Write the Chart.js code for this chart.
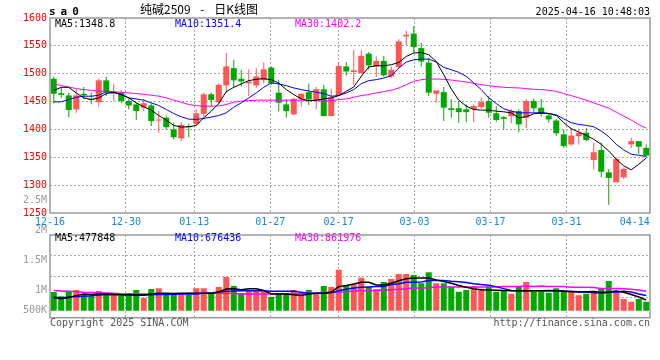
<!DOCTYPE html>
<html>
<head>
<meta charset="utf-8">
<script src="https://cdn.jsdelivr.net/npm/chart.js@4.4.1/dist/chart.umd.min.js"></script>
<style>
  body { margin: 0; background: #fff; }
  #box { position: relative; width: 660px; height: 360px; overflow: hidden; font-family: "DejaVu Sans Mono", monospace; }
  canvas { position: absolute; left: 0; }
  #cPrice { top: 0; }
  #cVol { top: 190px; }
  .t { position: absolute; white-space: nowrap; font-size: 10px; line-height: 10px; }
</style>
</head>
<body>
<div id="box">
  <canvas id="cPrice" width="660" height="232"></canvas>
  <canvas id="cVol" width="660" height="170"></canvas>

  <div class="t" style="left:49px;top:6px;font-weight:bold;font-size:11px;line-height:11px;letter-spacing:5px">sa0</div>
  <div class="t" style="left:140px;top:3px;font-family:'Noto Sans CJK SC',sans-serif;font-size:12px;line-height:12px;word-spacing:7px">纯碱2509 - 日K线图</div>
  <div class="t" style="right:10px;top:7px">2025-04-16 10:48:03</div>

  <div class="t" id="pMa5" style="left:55px;top:19px;color:#000"></div>
  <div class="t" id="pMa10" style="left:175px;top:19px;color:#00f"></div>
  <div class="t" id="pMa30" style="left:295px;top:19px;color:#f0f"></div>

  <div class="t" id="vMa5" style="left:55px;top:233px;color:#000"></div>
  <div class="t" id="vMa10" style="left:175px;top:233px;color:#00f"></div>
  <div class="t" id="vMa30" style="left:295px;top:233px;color:#f0f"></div>

  <div class="t" style="left:50px;top:318px;color:#555">Copyright 2025 SINA.COM</div>
  <div class="t" style="right:10px;top:318px;color:#555">http://finance.sina.com.cn</div>
</div>

<script>
// 纯碱2509 日K线，数据从图上读出来的（估计值）

// 交易日
const dates = ["12-16","12-17","12-18","12-19","12-20","12-23","12-24","12-25","12-26","12-27",
  "12-30","12-31","01-02","01-03","01-06","01-07","01-08","01-09","01-10",
  "01-13","01-14","01-15","01-16","01-17","01-20","01-21","01-22","01-23","01-24",
  "01-27","02-05","02-06","02-07","02-10","02-11","02-12","02-13","02-14",
  "02-17","02-18","02-19","02-20","02-21","02-24","02-25","02-26","02-27","02-28",
  "03-03","03-04","03-05","03-06","03-07","03-10","03-11","03-12","03-13","03-14",
  "03-17","03-18","03-19","03-20","03-21","03-24","03-25","03-26","03-27","03-28",
  "03-31","04-01","04-02","04-03","04-07","04-08","04-09","04-10","04-11",
  "04-14","04-15","04-16"];

// x 轴上显示的日期
const tickDates = ["12-16","12-30","01-13","01-27","02-17","03-03","03-17","03-31","04-14"];

// 价格 y 轴刻度
const priceTicks = [1250, 1300, 1350, 1400, 1450, 1500, 1550, 1600];

// 成交量 y 轴标签（新浪的标签位置跟柱子不是一个比例）
const volTickLabels = ["2.5M", "2M", "1.5M", "1M", "500K"];
const volTickValues = [2500000, 2000000, 1500000, 1000000, 500000];

const opens = [1491,1465,1461,1436,1464,1455,1449,1488,1464,1466,
  1451,1445,1439,1443,1416,1421,1400,1384,1406,1410,
  1428,1463,1449,1479,1510,1491,1483,1479,1489,1511,
  1466,1445,1427,1455,1467,1453,1472,1424,1461,1513,
  1503,1501,1536,1513,1523,1495,1512,1567,1572,1546,
  1520,1464,1467,1438,1438,1436,1436,1440,1451,1429,
  1422,1424,1433,1421,1451,1439,1425,1416,1391,1373,
  1388,1394,1345,1363,1323,1305,1314,1373,1379,1367];
const closes = [1464,1462,1435,1461,1461,1453,1488,1469,1468,1451,
  1443,1433,1447,1415,1417,1404,1386,1408,1404,1429,
  1463,1453,1480,1513,1488,1486,1486,1495,1508,1483,
  1448,1433,1455,1464,1454,1472,1424,1457,1514,1504,
  1506,1532,1515,1523,1497,1507,1558,1570,1548,1522,
  1466,1470,1439,1435,1431,1431,1442,1449,1430,1417,
  1419,1433,1409,1451,1438,1428,1418,1393,1370,1389,
  1394,1381,1359,1324,1313,1347,1329,1379,1369,1353];
const highs = [1495,1476,1466,1472,1476,1466,1491,1494,1482,1470,
  1455,1448,1455,1447,1433,1425,1412,1413,1410,1436,
  1466,1466,1483,1537,1525,1507,1508,1510,1520,1513,
  1489,1454,1457,1465,1482,1476,1480,1472,1521,1521,
  1543,1543,1539,1531,1532,1513,1562,1577,1585,1555,
  1528,1470,1476,1454,1451,1445,1445,1457,1460,1442,
  1424,1437,1436,1454,1455,1455,1430,1419,1400,1402,
  1400,1403,1376,1376,1329,1350,1332,1385,1379,1373];
const lows = [1447,1457,1422,1430,1454,1445,1441,1460,1451,1447,
  1436,1417,1433,1406,1394,1399,1382,1379,1386,1406,
  1418,1441,1445,1466,1475,1477,1460,1475,1483,1480,
  1432,1421,1426,1441,1444,1436,1423,1424,1460,1497,
  1480,1500,1507,1494,1495,1492,1510,1551,1537,1513,
  1460,1448,1415,1421,1412,1413,1413,1437,1421,1414,
  1400,1411,1395,1402,1430,1423,1412,1388,1367,1371,
  1373,1379,1328,1314,1265,1305,1311,1366,1356,1351];

// 均线
const ma5 = [1470,1475.6,1475.6,1465.5,1456.6,1453.6,1456.6,1464.3,1466.7,1462.6,
  1456.6,1447.7,1440.5,1434.6,1425,1416.7,1407.2,1404.2,1404.8,1407.2,
  1420.9,1432.8,1446.5,1467.9,1475.6,1481.6,1487.6,1490,1491,1489.3,
  1483.4,1471.5,1462.6,1454.8,1451.8,1452.5,1454.8,1456.6,1460.8,1468.5,
  1476.2,1495.3,1512,1514.3,1514.3,1516.1,1520.3,1531,1537,1538.2,
  1534,1522,1498.3,1472.7,1452.5,1441.7,1435.8,1434.6,1434.6,1432.8,
  1431.6,1429.8,1420.9,1422.7,1428,1429.8,1428.6,1425,1412,1401.3,
  1395.3,1389.4,1382.2,1373.3,1361.4,1346.5,1334.6,1327.5,1337.6,1348.8];
const ma10 = [1449.5,1449.5,1453.6,1457.8,1459.6,1459.6,1461.4,1467.3,1466.7,1462.6,
  1456.6,1454.8,1452.5,1447.7,1442.9,1435.8,1428.6,1422.7,1418.5,1418,
  1419.7,1422.1,1425,1429.8,1439.9,1447.7,1456.6,1465.5,1475.6,1483.4,
  1481.6,1478.6,1474.5,1471.5,1469.1,1466.7,1464.3,1459.6,1460.8,1465.5,
  1471.5,1482.2,1487.6,1489.3,1492.3,1496.5,1510.2,1520.9,1525,1526.2,
  1526.2,1520.9,1511.3,1507.2,1502.4,1495.3,1483.4,1471.5,1456.6,1446.5,
  1437,1432.8,1429.8,1429.8,1429.8,1429.8,1428.6,1426.2,1419,1412,
  1409,1407.2,1404.8,1397.1,1387,1373.3,1363.2,1355.5,1353.7,1351.4];
const ma30 = [1482.2,1478.6,1476.2,1473.3,1471.5,1470.3,1469.1,1467.9,1467.3,1466.7,
  1465.5,1464.3,1463.1,1461.4,1459.6,1456.6,1452.5,1448.9,1444.7,1442.9,
  1441.7,1441.7,1442.3,1444.7,1448.9,1450.7,1451.8,1452.5,1452.5,1452.5,
  1452.5,1452.5,1452.5,1452.5,1451.8,1451.8,1451.2,1451.2,1453.6,1454.8,
  1457.8,1460.8,1462.6,1465.5,1467.9,1470.3,1474.5,1480.4,1486.4,1489.3,
  1490.5,1490.5,1489.9,1488.7,1487,1485.2,1482.8,1480.4,1478.6,1476.8,
  1475.6,1475,1474.5,1473.3,1472.1,1471.5,1470.3,1468.5,1464.3,1460.8,
  1456.6,1452.5,1447.7,1442.9,1438.2,1431,1423.9,1416.7,1409,1402.2];

// 成交量（手）
const vols = [830000,640000,830000,920000,710000,670000,870000,790000,740000,680000,
  790000,920000,560000,960000,1000000,790000,790000,790000,710000,1000000,
  1000000,740000,1050000,1500000,1100000,790000,930000,890000,860000,610000,
  740000,740000,920000,790000,920000,770000,1100000,1050000,1820000,1140000,
  1160000,1460000,1070000,960000,1280000,1410000,1630000,1630000,1590000,1220000,
  1710000,1220000,1220000,1060000,840000,920000,1070000,980000,1060000,840000,
  880000,750000,1060000,1280000,840000,840000,800000,1000000,920000,840000,
  690000,750000,840000,1000000,1320000,870000,520000,400000,520000,400000];
const volMa5 = [590000,530000,590000,670000,740000,720000,740000,740000,730000,710000,
  710000,700000,690000,740000,770000,770000,760000,770000,770000,770000,
  770000,770000,830000,960000,980000,930000,980000,980000,900000,740000,
  740000,740000,710000,680000,740000,770000,770000,830000,1070000,1120000,
  1190000,1260000,1260000,1140000,1140000,1220000,1330000,1420000,1450000,1450000,
  1450000,1370000,1300000,1220000,1120000,1040000,970000,930000,920000,910000,
  900000,890000,890000,890000,890000,890000,900000,890000,860000,840000,
  840000,840000,850000,810000,830000,880000,820000,720000,610000,477848];
const volMa10 = [610000,560000,610000,630000,640000,660000,700000,710000,710000,710000,
  710000,710000,710000,710000,720000,720000,730000,740000,740000,740000,
  770000,790000,830000,860000,870000,890000,890000,890000,890000,860000,
  860000,860000,860000,820000,770000,770000,770000,800000,890000,950000,
  1010000,1040000,1050000,1070000,1080000,1160000,1200000,1260000,1260000,1280000,
  1340000,1340000,1340000,1310000,1290000,1250000,1200000,1160000,1130000,1070000,
  980000,900000,890000,890000,890000,890000,890000,890000,870000,860000,
  830000,830000,800000,790000,810000,830000,860000,830000,740000,676436];
const volMa30 = [900000,880000,860000,840000,820000,810000,800000,790000,780000,750000,
  740000,740000,740000,740000,740000,740000,740000,750000,760000,770000,
  770000,770000,770000,770000,760000,740000,740000,740000,740000,740000,
  740000,740000,740000,750000,760000,770000,800000,820000,830000,840000,
  880000,890000,890000,900000,920000,930000,950000,980000,1010000,1010000,
  1020000,1050000,1050000,1050000,1050000,1050000,1050000,1050000,1050000,1050000,
  1080000,1080000,1080000,1100000,1080000,1100000,1080000,1080000,1080000,1040000,
  1040000,1040000,1030000,990000,990000,990000,980000,950000,920000,861976];

const RED = "#ff5555";
const GREEN = "#00a800";
const GRID = "#aaaaaa";
const N = dates.length;

// 涨红跌绿
const candleColors = opens.map((o, i) => (closes[i] >= o ? RED : GREEN));
const tickIdx = tickDates.map(d => dates.indexOf(d));
const xOf = i => i + 0.5;

/* 顶部均线数值 */
document.getElementById("pMa5").textContent = "MA5:" + ma5[N - 1].toFixed(1);
document.getElementById("pMa10").textContent = "MA10:" + ma10[N - 1].toFixed(1);
document.getElementById("pMa30").textContent = "MA30:" + ma30[N - 1].toFixed(1);
document.getElementById("vMa5").textContent = "MA5:" + volMa5[N - 1];
document.getElementById("vMa10").textContent = "MA10:" + volMa10[N - 1];
document.getElementById("vMa30").textContent = "MA30:" + volMa30[N - 1];

Chart.defaults.font.family = '"DejaVu Sans Mono", monospace';
Chart.defaults.font.size = 10;

// 画框
const framePlugin = {
  id: "frame",
  afterDraw(chart) {
    const { ctx, chartArea: a } = chart;
    ctx.save();
    ctx.strokeStyle = "#999";
    ctx.lineWidth = 1.5;
    ctx.strokeRect(a.left, a.top, a.right - a.left, a.bottom - a.top);
    ctx.restore();
  }
};

// 成交量左边的标签，最下面那个贴着底边
const volLabelPlugin = {
  id: "volLabels",
  afterDraw(chart) {
    const { ctx, chartArea: a } = chart;
    const s = chart.scales.yLab;
    ctx.save();
    ctx.font = '10px "DejaVu Sans Mono"';
    ctx.fillStyle = "#999";
    ctx.textAlign = "right";
    ctx.textBaseline = "middle";
    volTickValues.forEach((v, i) => {
      const y = Math.min(s.getPixelForValue(v), a.bottom - 7);
      ctx.fillText(volTickLabels[i], a.left - 3, y);
    });
    ctx.restore();
  }
};

// 日期网格：新浪把日期线按 N-1 等分排，柱子按 N 等分排
function dateAxis(showLabels) {
  return {
    type: "linear",
    min: 0,
    max: N,
    offset: false,
    afterBuildTicks: s => { s.ticks = tickIdx.map(i => ({ value: i * N / (N - 1) })); },
    afterFit: s => { s.height = showLabels ? 19 : 0; },
    ticks: {
      display: showLabels, autoSkip: false, maxRotation: 0,
      color: "#1a86d6", padding: 3,
      callback: (v, i) => tickDates[i]
    },
    grid: {
      offset: false, drawTicks: false,
      color: c => (c.index === 0 || c.index === tickIdx.length - 1) ? "rgba(0,0,0,0)" : GRID
    },
    border: { display: false, dash: [2, 2] }
  };
}

const commonOpts = {
  responsive: false,
  animation: false,
  devicePixelRatio: 1,
  plugins: { legend: { display: false }, tooltip: { enabled: false } }
};

function lineSet(label, arr, color, width) {
  return {
    type: "line", label, order: 0,
    data: arr.map((v, i) => ({ x: xOf(i), y: v })),
    borderColor: color, borderWidth: width, pointRadius: 0, tension: 0
  };
}

// K线图
new Chart(document.getElementById("cPrice"), {
  type: "bar",
  data: {
    datasets: [
      {
        label: "wick", order: 2, grouped: false, barThickness: 1, inflateAmount: 0,
        data: lows.map((l, i) => ({ x: xOf(i), y: [l, highs[i]] })),
        backgroundColor: candleColors
      },
      {
        label: "body", order: 1, grouped: false, barThickness: 6, minBarLength: 1, inflateAmount: 0,
        data: opens.map((o, i) => ({ x: xOf(i), y: [o, closes[i]] })),
        backgroundColor: candleColors
      },
      lineSet("MA5", ma5, "#000", 1),
      lineSet("MA10", ma10, "#00f", 1),
      lineSet("MA30", ma30, "#f0f", 1)
    ]
  },
  options: {
    ...commonOpts,
    layout: { padding: { left: 0, right: 10, top: 18, bottom: 0 } },
    scales: {
      x: dateAxis(true),
      y: {
        min: priceTicks[0],
        max: priceTicks[priceTicks.length - 1],
        afterBuildTicks: s => { s.ticks = priceTicks.map(v => ({ value: v })); },
        afterFit: s => { s.width = 50; },
        ticks: { color: "#f00", padding: 3, callback: v => String(v) },
        grid: {
          drawTicks: false,
          color: c => (c.index === 0 || c.index === priceTicks.length - 1) ? "rgba(0,0,0,0)" : GRID
        },
        border: { display: false, dash: [2, 2] }
      }
    }
  },
  plugins: [framePlugin]
});

// 成交量
new Chart(document.getElementById("cVol"), {
  type: "bar",
  data: {
    datasets: [
      {
        label: "vol", order: 1, grouped: false, barThickness: 6, inflateAmount: 0,
        data: vols.map((v, i) => ({ x: xOf(i), y: v })),
        backgroundColor: candleColors
      },
      lineSet("MA5", volMa5, "#000", 1.5),
      lineSet("MA10", volMa10, "#00f", 1.5),
      lineSet("MA30", volMa30, "#f0f", 1.5)
    ]
  },
  options: {
    ...commonOpts,
    layout: { padding: { left: 0, right: 10, top: 45, bottom: 42.3 } },
    scales: {
      x: dateAxis(false),
      y: {
        min: -311000,
        max: 3364000,
        afterBuildTicks: s => {
          const step = (s.max - s.min) / 4;
          s.ticks = [0, 1, 2, 3, 4].map(k => ({ value: s.min + k * step }));
        },
        afterFit: s => { s.width = 50; },
        ticks: { display: false },
        grid: {
          drawTicks: false,
          color: c => (c.index === 0 || c.index === 4) ? "rgba(0,0,0,0)" : GRID
        },
        border: { display: false, dash: [2, 2] }
      },
      yLab: { type: "linear", display: false, min: 553000, max: 1922000 }
    }
  },
  plugins: [framePlugin, volLabelPlugin]
});
</script>
</body>
</html>
